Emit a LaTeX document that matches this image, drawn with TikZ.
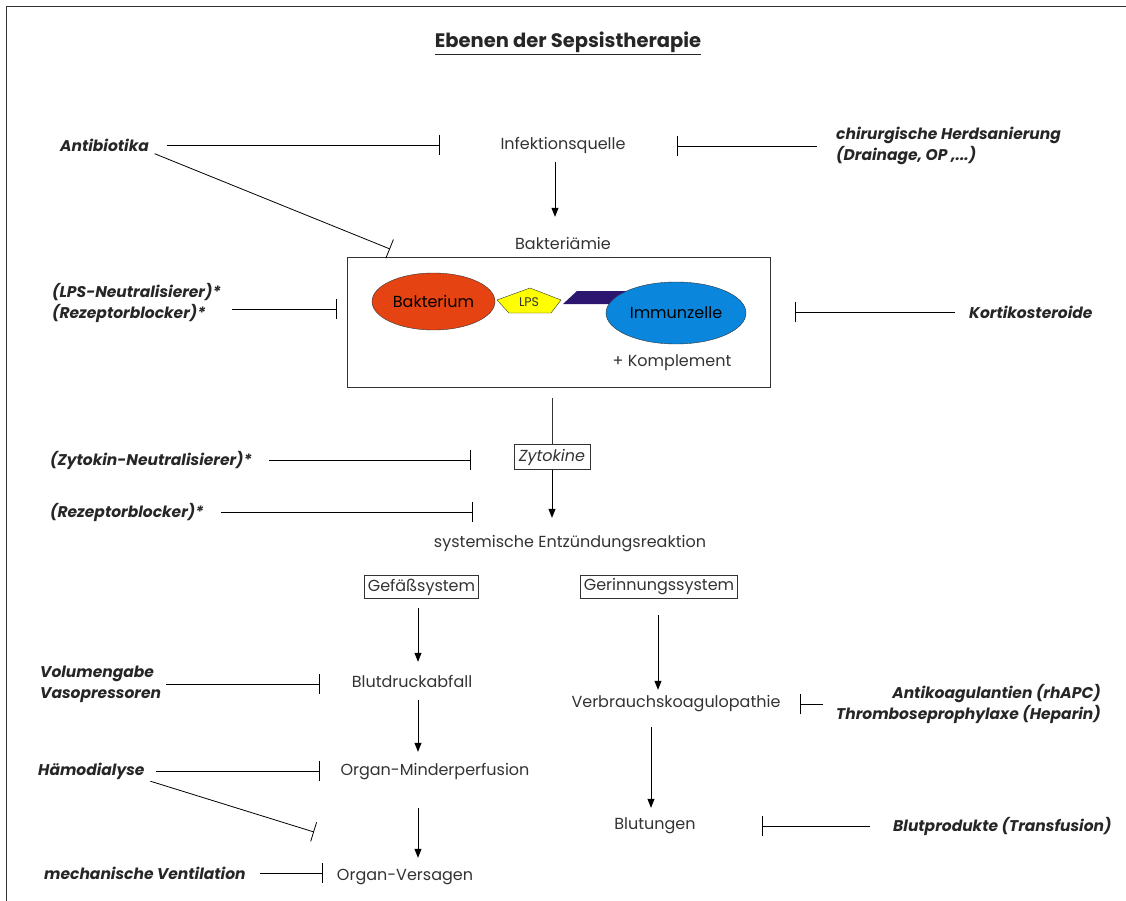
\documentclass[tikz,border=0pt]{standalone}
\usepackage{fontspec}
\setmainfont{Poppins}
\usetikzlibrary{arrows.meta}
\usetikzlibrary{shapes.geometric}

\definecolor{bakrot}{HTML}{E64312}
\definecolor{immblau}{HTML}{0A86DC}
\definecolor{lpsgelb}{HTML}{FFFF00}
\definecolor{rezlila}{HTML}{2C1670}
\definecolor{schrift}{HTML}{333333}

\tikzset{
  stufe/.style={inner sep=0pt, minimum height=20pt, text=schrift},
  kasten/.style={draw=schrift, line width=0.8pt, inner sep=4pt, text=schrift},
  thera/.style={inner sep=0pt, font=\fontsize{15.5}{21}\selectfont\bfseries\itshape, text=black!85},
  pfeil/.style={line width=0.8pt, -{Triangle[length=9pt,width=7pt]}},
  hemm/.style={line width=0.8pt, -{Bar[width=20pt,line width=0.8pt]}},
}

\begin{document}
\begin{tikzpicture}[x=1pt, y=-1pt, font=\fontsize{16}{19}\selectfont]
  \useasboundingbox (0,0) rectangle (1126,901);
  % Rahmen
  \draw[line width=0.8pt, schrift] (6,901) -- (6,6) -- (1126,6);

  \node[inner sep=0pt, text=black!85, font=\fontsize{19.5}{23}\selectfont] (titel) at (568,43) {\textbf{\underline{Ebenen der Sepsistherapie}}};

  % Hauptkette
  \node[stufe] (quelle) at (563,145) {Infektionsquelle};
  \node[stufe] (baktae) at (563,243) {Bakteriämie};
  \node[draw=schrift, line width=0.8pt, minimum width=423pt, minimum height=130pt] (rahmen) at (558.5,322) {};
  \fill[rezlila] (563,304) -- (577,291) -- (650,291) -- (636,304) -- cycle;
  \node[ellipse, draw=schrift, fill=bakrot, minimum width=123pt, minimum height=57pt, inner sep=0pt] (bakterium) at (433.5,301.5) {Bakterium};
  \draw[schrift, fill=lpsgelb] (497,300) -- (530,288) -- (561,300) -- (551,313) -- (509,313) -- cycle;
  \node[inner sep=0pt, font=\fontsize{12.5}{14}\selectfont, text=schrift] (lps) at (529,302) {LPS};
  \node[ellipse, draw=schrift, fill=immblau, minimum width=140pt, minimum height=62pt, inner sep=0pt] (immun) at (676,313) {Immunzelle};
  \node[stufe] (kompl) at (672,363) {+ Komplement};
  \node[kasten, font=\fontsize{16}{19}\selectfont\itshape, inner xsep=5pt, inner ysep=4pt] (zytok) at (552,457) {Zytokine};
  \node[stufe] (sirs) at (570,544) {systemische Entzündungsreaktion};
  \node[kasten, inner sep=3.5pt] (gefaess) at (421.5,587) {Gefäßsystem};
  \node[kasten, inner sep=3.5pt] (gerinn) at (659,587) {Gerinnungssystem};
  \node[stufe] (blutdr) at (412,681) {Blutdruckabfall};
  \node[stufe] (minder) at (435,772) {Organ-Minderperfusion};
  \node[stufe] (versag) at (405,877) {Organ-Versagen};
  \node[stufe] (verbr) at (676,704) {Verbrauchskoagulopathie};
  \node[stufe] (blutung) at (655,826) {Blutungen};

  \draw[pfeil, shorten <=7pt, shorten >=16pt] ([xshift=-8pt]quelle.south) -- ([xshift=-8pt]baktae.north);
  \draw[line width=0.8pt, schrift, shorten <=11pt] (rahmen.south -| zytok.north) -- (zytok.north);
  \draw[pfeil, shorten >=16pt] (zytok.south) -- (sirs.north -| zytok.south);
  \draw[pfeil, shorten <=9pt, shorten >=9pt] ([xshift=-3.5pt]gefaess.south) -- (blutdr.north -| 418,0);
  \draw[pfeil, shorten <=9pt, shorten >=10pt] (blutdr.south -| 418,0) -- (minder.north -| 418,0);
  \draw[pfeil, shorten <=26pt, shorten >=9pt] (minder.south -| 418,0) -- (versag.north -| 418,0);
  \draw[pfeil, shorten <=16pt, shorten >=4pt] ([xshift=-1pt]gerinn.south) -- (verbr.north -| 658,0);
  \draw[pfeil, shorten <=13pt, shorten >=8pt] (verbr.south -| 651,0) -- (blutung.north -| 651,0);

  % Therapieansaetze
  \node[thera, anchor=west] (antib) at (60,145) {Antibiotika};
  \node[thera, anchor=west, align=left] (chir) at (836,146) {chirurgische Herdsanierung\\(Drainage, OP ,...)};
  \node[thera, anchor=west, align=left] (lpsneu) at (52,303) {(LPS-Neutralisierer)*\\(Rezeptorblocker)*};
  \node[thera, anchor=west] (korti) at (969,312) {Kortikosteroide};
  \node[thera, anchor=west] (zytneu) at (50,460) {(Zytokin-Neutralisierer)*};
  \node[thera, anchor=west] (rezbl) at (50,512) {(Rezeptorblocker)*};
  \node[thera, anchor=west, align=left] (volum) at (40,684) {Volumengabe\\Vasopressoren};
  \node[thera, anchor=west] (haemo) at (38,771) {Hämodialyse};
  \node[thera, anchor=west] (mechv) at (44,873) {mechanische Ventilation};
  \node[thera, anchor=east, align=right] (antik) at (1101,704) {Antikoagulantien (rhAPC)\\Thromboseprophylaxe (Heparin)};
  \node[thera, anchor=west] (blutpr) at (893,826) {Blutprodukte (Transfusion)};

  \coordinate (hantib) at (440,145);
  \coordinate (hbakt) at (390,249);
  \coordinate (hchir) at (677,146);
  \coordinate (hlps) at (337,309);
  \coordinate (hkorti) at (795,312);
  \coordinate (hzyt) at (471,460);
  \coordinate (hrez) at (473,512);
  \coordinate (hvol) at (320,684);
  \coordinate (hhaemo) at (320,771);
  \coordinate (hversag) at (314,832);
  \coordinate (hmech) at (323,873);
  \coordinate (hantik) at (800,704);
  \coordinate (hblut) at (762,826);

  \draw[hemm, shorten <=18pt] (antib.east) -- (hantib);
  \draw[hemm, shorten <=6pt] (antib.south east) -- (hbakt);
  \draw[hemm, shorten <=19pt] (chir.west) -- (hchir);
  \draw[hemm, shorten <=11pt] (lpsneu.east |- hlps) -- (hlps);
  \draw[hemm, shorten <=14pt] (korti.west) -- (hkorti);
  \draw[hemm, shorten <=17pt] (zytneu.east) -- (hzyt);
  \draw[hemm, shorten <=17pt] (rezbl.east) -- (hrez);
  \draw[hemm, shorten <=5pt] (volum.east) -- (hvol);
  \draw[hemm, shorten <=11pt] (haemo.east) -- (hhaemo);
  \draw[hemm, shorten <=6pt] (haemo.south east) -- (hversag);
  \draw[hemm, shorten <=14pt] (mechv.east) -- (hmech);
  \draw[hemm, shorten <=13pt] (antik.west) -- (hantik);
  \draw[hemm, shorten <=23pt] (blutpr.west) -- (hblut);
\end{tikzpicture}
\end{document}
